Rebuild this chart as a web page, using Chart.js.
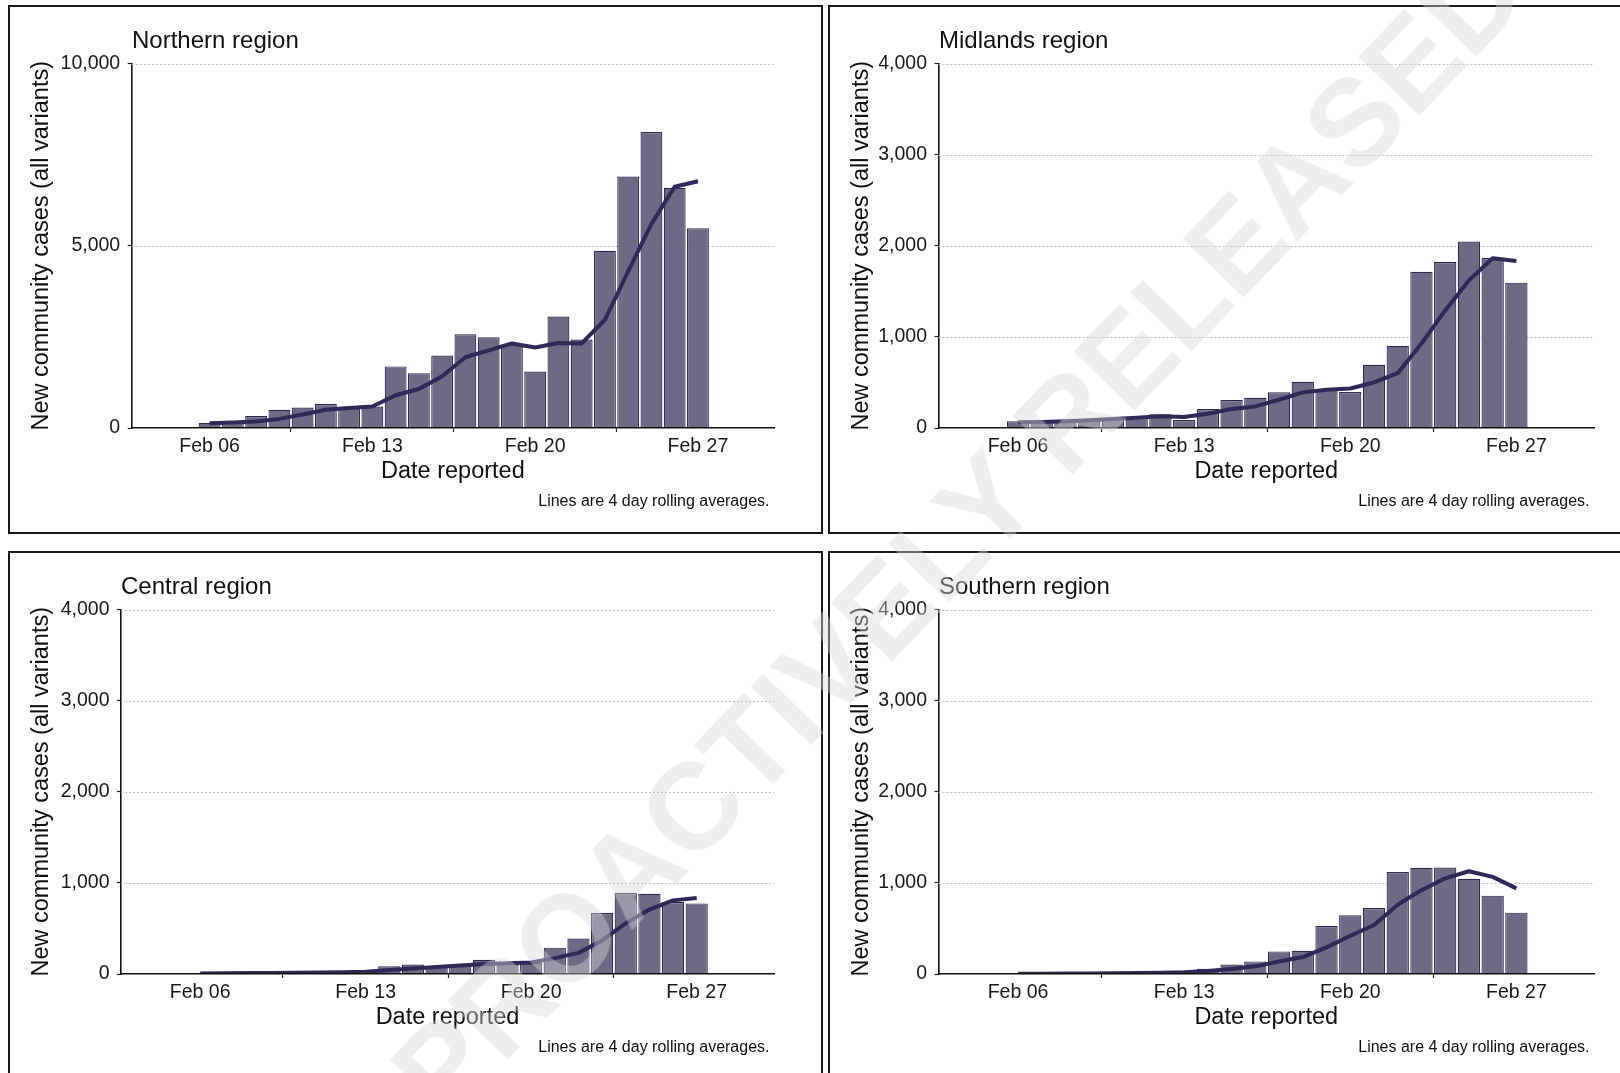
<!DOCTYPE html>
<html>
<head>
<meta charset="utf-8">
<script src="https://cdn.jsdelivr.net/npm/chart.js@4.4.1/dist/chart.umd.min.js"></script>
<style>
  html, body { margin: 0; padding: 0; background: #fff; }
  body { width: 1620px; height: 1073px; overflow: hidden; position: relative;
         font-family: "Liberation Sans", Arial, Helvetica, sans-serif; color: #111; }
  .panel { position: absolute; box-sizing: border-box; width: 815px; height: 529px;
           border: 2px solid #1a1a1a; background: #fff; }
  .panel canvas { position: absolute; left: 0; top: 0; }
  .ptitle { position: absolute; top: 21px; font-size: 24px; line-height: 24px; white-space: nowrap; color: #111; }
  .caption { position: absolute; right: 51.5px; top: 486px; font-size: 16px; line-height: 16px; white-space: nowrap; color: #111; }
  .watermark { position: absolute; left: 958px; top: 532px; transform: translate(-50%, -50%) rotate(-46deg);
               font-size: 123px; font-weight: bold; line-height: 123px; white-space: nowrap;
               color: rgba(214, 214, 214, 0.42); pointer-events: none; z-index: 10; }
</style>
</head>
<body>

<div class="panel" style="left:8px; top:5px;">
  <canvas id="chartNorthern" width="811" height="525"></canvas>
  <div class="ptitle" style="left:122px;">Northern region</div>
  <div class="caption">Lines are 4 day rolling averages.</div>
</div>
<div class="panel" style="left:828px; top:5px;">
  <canvas id="chartMidlands" width="811" height="525"></canvas>
  <div class="ptitle" style="left:109px;">Midlands region</div>
  <div class="caption">Lines are 4 day rolling averages.</div>
</div>
<div class="panel" style="left:8px; top:551px;">
  <canvas id="chartCentral" width="811" height="525"></canvas>
  <div class="ptitle" style="left:111px;">Central region</div>
  <div class="caption">Lines are 4 day rolling averages.</div>
</div>
<div class="panel" style="left:828px; top:551px;">
  <canvas id="chartSouthern" width="811" height="525"></canvas>
  <div class="ptitle" style="left:109px;">Southern region</div>
  <div class="caption">Lines are 4 day rolling averages.</div>
</div>

<div class="watermark">PROACTIVELY RELEASED</div>

<script>
// Reporting dates (one bar per day)
const dates = ['Feb 06', 'Feb 07', 'Feb 08', 'Feb 09', 'Feb 10', 'Feb 11', 'Feb 12',
               'Feb 13', 'Feb 14', 'Feb 15', 'Feb 16', 'Feb 17', 'Feb 18', 'Feb 19',
               'Feb 20', 'Feb 21', 'Feb 22', 'Feb 23', 'Feb 24', 'Feb 25', 'Feb 26', 'Feb 27'];
const dateTicks = ['Feb 06', 'Feb 13', 'Feb 20', 'Feb 27'];

// New community cases per day, and the 4 day rolling average line
const northernCases = [140, 180, 330, 500, 560, 660, 580, 590, 1690, 1500, 1990, 2570, 2490, 2290,
                       1550, 3060, 2430, 4860, 6900, 8120, 6590, 5480];
const northernAvg   = [130, 150, 180, 250, 370, 500, 550, 590, 900, 1070, 1420, 1940, 2130, 2320,
                       2210, 2330, 2320, 2970, 4300, 5600, 6620, 6770];

const midlandsCases = [73, 70, 84, 98, 106, 110, 150, 88, 208, 307, 332, 391, 507, 427,
                       394, 693, 901, 1715, 1821, 2047, 1865, 1595];
const midlandsAvg   = [62, 66, 73, 84, 99, 113, 128, 120, 157, 208, 237, 310, 391, 420,
                       434, 500, 602, 926, 1290, 1620, 1862, 1832];

const centralCases  = [8, 10, 12, 15, 18, 22, 26, 30, 85, 104, 85, 100, 156, 130,
                       122, 289, 389, 670, 889, 881, 790, 775];
const centralAvg    = [6, 8, 10, 11, 14, 17, 20, 24, 43, 61, 76, 94, 111, 119,
                       127, 174, 232, 368, 557, 707, 808, 834];

const southernCases = [4, 5, 6, 8, 10, 14, 22, 35, 58, 104, 138, 248, 255, 527,
                       645, 724, 1118, 1165, 1169, 1044, 860, 673];
const southernAvg   = [3, 4, 5, 6, 7, 10, 14, 20, 32, 55, 84, 137, 186, 292,
                       419, 538, 760, 920, 1050, 1128, 1066, 940];

Chart.defaults.font.family = '"Liberation Sans", Arial, Helvetica, sans-serif';
Chart.defaults.color = '#1a1a1a';

const BAR_FILL = '#6c6a84';
const BAR_EDGE = '#2b2950';
const LINE_COLOR = '#2d2a57';

// Light dotted horizontal guides at each y tick
const dottedGrid = {
  id: 'dottedGrid',
  beforeDatasetsDraw(chart) {
    const { ctx, chartArea, scales } = chart;
    const y = scales.y;
    ctx.save();
    ctx.strokeStyle = '#bdbdbd';
    ctx.lineWidth = 1;
    ctx.setLineDash([2, 2]);
    y.ticks.forEach(t => {
      if (t.value === 0) return;
      const py = Math.round(y.getPixelForValue(t.value)) + 0.5;
      ctx.beginPath();
      ctx.moveTo(chartArea.left, py);
      ctx.lineTo(chartArea.right, py);
      ctx.stroke();
    });
    ctx.restore();
  }
};

const PLOT_RIGHT = 764;
const PLOT_TOP = 56.5;
const PLOT_BOTTOM = 421;
const CANVAS_W = 811;
const CANVAS_H = 525;

function makeChart(canvasId, cases, avg, yMax, yStep, plotLeft) {
  const ctx = document.getElementById(canvasId);
  return new Chart(ctx, {
    type: 'bar',
    data: {
      datasets: [
        {
          type: 'line',
          data: dates.map((d, i) => ({ x: i, y: avg[i] })),
          borderColor: LINE_COLOR,
          borderWidth: 4,
          pointRadius: 0,
          tension: 0,
          borderJoinStyle: 'round',
          order: 0
        },
        {
          type: 'bar',
          data: dates.map((d, i) => ({ x: i, y: cases[i] })),
          backgroundColor: BAR_FILL,
          borderColor: BAR_EDGE,
          borderWidth: 1.2,
          borderSkipped: 'start',
          categoryPercentage: 1,
          barPercentage: 0.94,
          order: 1
        }
      ]
    },
    options: {
      responsive: false,
      devicePixelRatio: 1,
      animation: false,
      layout: { padding: { left: 0, top: PLOT_TOP, right: CANVAS_W - PLOT_RIGHT, bottom: 0 } },
      plugins: { legend: { display: false }, tooltip: { enabled: false }, title: { display: false } },
      scales: {
        x: {
          type: 'linear',
          min: -3.35,
          max: 24.27,
          offset: false,
          afterBuildTicks: s => { s.ticks = dateTicks.map(lbl => ({ value: dates.indexOf(lbl) })); },
          afterFit: s => { s.height = CANVAS_H - PLOT_BOTTOM; },
          ticks: {
            autoSkip: false, maxRotation: 0, padding: 2.5,
            font: { size: 19.5, lineHeight: 1.2 }, color: '#1a1a1a',
            callback: v => dates[Math.round(v)]
          },
          grid: { display: true, drawOnChartArea: false, drawTicks: true, tickLength: 4,
                  tickColor: '#222', tickWidth: 1.2 },
          border: { display: true, color: '#111', width: 1.6, z: 1 },
          title: { display: true, text: 'Date reported', color: '#111',
                   font: { size: 23.5, lineHeight: 1.2 }, padding: { top: 0, bottom: 46.2 } }
        },
        y: {
          type: 'linear',
          min: 0,
          max: yMax,
          afterFit: s => { s.width = plotLeft; },
          ticks: {
            stepSize: yStep, padding: 7.5,
            font: { size: 19.5, lineHeight: 1.2 }, color: '#1a1a1a',
            callback: v => v.toLocaleString('en-US')
          },
          grid: { display: true, drawOnChartArea: false, drawTicks: true, tickLength: 4,
                  tickColor: '#222', tickWidth: 1.2 },
          border: { display: true, color: '#111', width: 1.6 },
          title: { display: true, text: 'New community cases (all variants)', color: '#111',
                   font: { size: 23.5, lineHeight: 1.2 }, padding: { top: 17.4, bottom: 0 } }
        }
      }
    },
    plugins: [dottedGrid]
  });
}

makeChart('chartNorthern', northernCases, northernAvg, 10000, 5000, 121.7);
makeChart('chartMidlands', midlandsCases, midlandsAvg, 4000, 1000, 108.5);
makeChart('chartCentral', centralCases, centralAvg, 4000, 1000, 111);
makeChart('chartSouthern', southernCases, southernAvg, 4000, 1000, 108.5);
</script>
</body>
</html>
